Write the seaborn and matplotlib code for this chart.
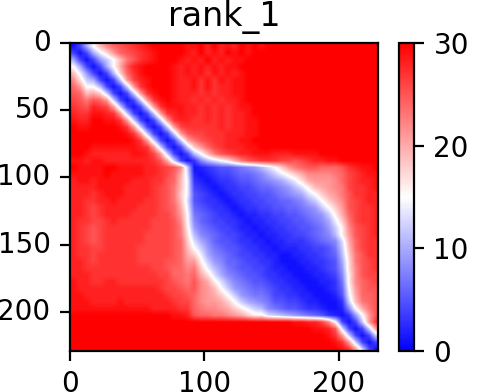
import numpy as np
import seaborn as sns
from matplotlib import pyplot as plt

BIN = 5  # residues per cell
N_BINS = 46
LAST_RESIDUE = 229
X_TICKS = [0, 100, 200]
Y_TICKS = [0, 50, 100, 150, 200]
CBAR_TICKS = [0, 10, 20, 30]
VMAX = 30

# distance, each row starts on the diagonal, cells left out are >= 30
upper_rows = [
    [1, 4, 10, 15, 19, 22, 24, 25, 26, 27, 28, 29, 30, 30, 30, 30, 30, 29, 29, 30, 28, 30, 28, 29, 28, 30, 29, 30, 29, 30, 30, 30, 30],
    [1, 4, 10, 14, 17, 21, 24, 25, 26, 27, 28, 29, 30, 30, 30, 30, 29, 28, 30, 28, 29, 28, 30, 29, 30, 29, 30, 30, 30, 30],
    [1, 4, 9, 12, 15, 19, 23, 25, 27, 28, 29, 30, 30, 30, 29, 28, 29, 28, 30, 28, 29, 28, 29, 29, 30, 30, 30, 30],
    [1, 4, 10, 15, 20, 25, 28, 29, 30, 30, 30, 30, 29, 28, 29, 28, 29, 28, 29, 28, 29, 29, 30, 30, 30, 30],
    [1, 4, 11, 18, 24, 27, 29, 30, 30, 30, 30, 29, 28, 29, 28, 29, 27, 29, 28, 29, 28, 29, 30, 30, 30],
    [1, 4, 12, 21, 26, 28, 29, 30, 30, 30, 29, 28, 28, 29, 27, 29, 27, 29, 28, 29, 29, 30, 30, 30],
    [1, 4, 12, 21, 27, 29, 30, 30, 30, 29, 28, 28, 29, 27, 29, 27, 28, 28, 29, 29, 30, 30, 30],
    [1, 4, 12, 21, 27, 29, 30, 30, 29, 28, 28, 28, 27, 28, 27, 28, 28, 29, 29, 30, 30, 30],
    [1, 4, 12, 21, 27, 29, 30, 29, 28, 28, 27, 28, 27, 28, 27, 28, 28, 29, 30, 30, 30],
    [1, 4, 12, 21, 27, 29, 29, 29, 28, 28, 27, 28, 27, 28, 27, 28, 29, 29, 30, 30],
    [1, 4, 12, 21, 27, 28, 29, 28, 28, 27, 28, 27, 28, 27, 28, 28, 29, 30, 30],
    [1, 4, 12, 21, 27, 28, 28, 27, 27, 28, 27, 28, 27, 28, 28, 29, 29, 30],
    [1, 4, 12, 21, 26, 27, 27, 27, 27, 27, 28, 27, 28, 28, 29, 29, 30],
    [1, 4, 12, 21, 25, 26, 26, 27, 27, 27, 28, 28, 28, 29, 29, 30],
    [1, 4, 12, 20, 23, 25, 26, 27, 27, 28, 28, 29, 29, 30, 30],
    [1, 4, 12, 18, 21, 24, 26, 27, 28, 28, 28, 29, 29, 30, 30, 30],
    [1, 4, 11, 15, 19, 23, 25, 26, 27, 28, 28, 29, 29, 29, 28, 28, 28, 29, 29, 29, 29],
    [1, 3, 8, 11, 13, 15, 17, 20, 23, 25, 26, 27, 27, 27, 26, 26, 25, 26, 27, 28, 28, 29, 29],
    [1, 2, 3, 4, 5, 5, 6, 7, 8, 9, 11, 13, 15, 18, 21, 23, 24, 25, 25, 24, 24, 24, 25, 27, 28, 29, 29],
    [1, 2, 3, 4, 4, 5, 6, 6, 7, 8, 10, 12, 14, 16, 18, 20, 22, 22, 22, 22, 23, 24, 26, 27, 28, 29, 29],
    [1, 2, 3, 3, 4, 5, 5, 6, 7, 8, 9, 10, 12, 14, 17, 20, 21, 21, 21, 22, 24, 26, 27, 28, 28, 29],
    [1, 2, 3, 3, 4, 4, 5, 6, 6, 7, 8, 9, 11, 13, 16, 19, 20, 21, 22, 23, 26, 27, 27, 28, 29],
    [1, 2, 3, 3, 4, 4, 5, 5, 6, 7, 8, 9, 10, 13, 15, 18, 20, 21, 23, 25, 27, 27, 28, 28],
    [1, 2, 3, 3, 4, 4, 5, 5, 6, 6, 7, 8, 10, 12, 15, 18, 20, 22, 25, 26, 27, 28, 28],
    [1, 2, 3, 3, 4, 4, 5, 5, 6, 6, 7, 8, 9, 12, 15, 18, 21, 25, 26, 27, 27, 28],
    [1, 2, 2, 3, 3, 4, 4, 5, 5, 6, 7, 8, 9, 12, 16, 20, 24, 26, 27, 27, 28],
    [1, 2, 2, 3, 3, 4, 4, 5, 5, 6, 7, 8, 10, 14, 18, 23, 26, 27, 27, 28],
    [1, 2, 2, 3, 3, 4, 4, 5, 5, 6, 7, 9, 12, 16, 22, 25, 26, 27, 28],
    [1, 2, 2, 3, 3, 4, 4, 5, 6, 7, 8, 11, 16, 21, 25, 26, 27, 28],
    [1, 2, 2, 3, 3, 3, 4, 5, 6, 7, 8, 13, 20, 24, 26, 27, 27],
    [1, 2, 2, 2, 3, 3, 4, 4, 5, 7, 12, 19, 24, 26, 27, 27],
    [1, 1, 2, 2, 3, 3, 4, 5, 6, 11, 18, 23, 25, 27, 27],
    [1, 1, 2, 2, 3, 3, 4, 5, 10, 17, 23, 25, 26, 27],
    [1, 1, 2, 2, 3, 4, 5, 9, 17, 22, 25, 26, 27],
    [1, 1, 2, 2, 3, 4, 8, 16, 22, 25, 26, 26],
    [1, 1, 2, 2, 3, 7, 16, 22, 24, 25, 26],
    [1, 1, 2, 3, 6, 15, 21, 24, 25, 25],
    [1, 1, 2, 5, 14, 20, 24, 24, 25],
    [1, 1, 3, 12, 19, 23, 24, 25],
    [1, 2, 8, 15, 20, 23, 25],
    [1, 3, 9, 15, 21, 25],
    [1, 4, 12, 21, 27],
    [1, 4, 12, 21],
    [1, 4, 12],
    [1, 4],
    [1],
]

# rows 90-205, columns 0-90: paler than the mirrored upper right block
lower_left = [
    [30, 29, 29, 29, 29, 30, 30, 29, 29, 29, 29, 28, 28, 27, 26, 25, 22, 12],
    [29, 29, 29, 29, 29, 30, 29, 29, 29, 29, 29, 28, 28, 27, 26, 24, 20, 13],
    [28, 29, 29, 28, 29, 29, 29, 29, 29, 28, 28, 28, 27, 27, 25, 24, 19, 14],
    [28, 28, 28, 28, 29, 29, 29, 29, 28, 28, 28, 28, 27, 26, 25, 23, 19, 14],
    [28, 28, 28, 27, 28, 29, 29, 29, 28, 28, 28, 28, 27, 26, 25, 23, 18, 14],
    [28, 28, 27, 27, 28, 28, 29, 28, 28, 28, 28, 27, 27, 26, 25, 23, 19, 13],
    [28, 28, 27, 26, 27, 28, 28, 28, 28, 28, 27, 27, 27, 26, 25, 24, 20, 14],
    [28, 28, 27, 26, 27, 28, 28, 28, 28, 27, 27, 27, 27, 26, 26, 24, 21, 15],
    [28, 27, 27, 26, 26, 27, 28, 27, 27, 27, 27, 27, 26, 26, 26, 25, 22, 15],
    [28, 27, 26, 25, 26, 27, 27, 27, 27, 27, 27, 27, 26, 26, 26, 25, 23, 16],
    [28, 27, 26, 25, 26, 27, 27, 27, 27, 27, 27, 26, 26, 26, 26, 25, 23, 17],
    [28, 27, 26, 25, 26, 27, 27, 27, 27, 27, 27, 26, 26, 26, 26, 25, 24, 18],
    [28, 27, 27, 26, 26, 27, 27, 27, 27, 27, 26, 26, 26, 26, 26, 25, 24, 19],
    [28, 27, 27, 26, 27, 27, 27, 27, 27, 27, 26, 26, 26, 26, 26, 25, 24, 20],
    [28, 28, 27, 26, 27, 27, 27, 27, 27, 27, 26, 26, 26, 26, 25, 25, 24, 21],
    [28, 28, 27, 27, 27, 27, 27, 27, 27, 27, 27, 27, 26, 26, 25, 24, 24, 22],
    [28, 28, 28, 27, 27, 27, 27, 27, 27, 27, 27, 27, 27, 26, 26, 24, 24, 23],
    [29, 28, 28, 27, 27, 28, 28, 27, 27, 27, 27, 27, 27, 27, 26, 25, 24, 23],
    [29, 28, 28, 28, 28, 28, 28, 28, 28, 28, 28, 28, 28, 27, 26, 26, 25, 24],
    [29, 29, 28, 28, 28, 28, 28, 28, 28, 28, 28, 28, 28, 28, 27, 26, 26, 25],
    [29, 29, 29, 28, 28, 28, 28, 29, 28, 28, 28, 28, 28, 28, 28, 27, 26, 26],
    [29, 29, 29, 29, 29, 29, 29, 29, 29, 29, 29, 29, 28, 28, 28, 28, 27, 27],
    [30, 30, 30, 30, 30, 30, 30, 30, 30, 30, 30, 30, 30, 30, 30, 29, 29, 28],
]

# last rows are not mirrored, below the diagonal they go straight to saturated red
bottom_rows = {
    41: [29, 29, 28, 28, 26, 22, 15, 4],
    42: [29, 29, 28, 25, 13, 4],
    43: [29, 27, 21, 12, 4],
    44: [29, 27, 21, 12, 4],
    45: [29, 27, 21, 12, 4],
}

if __name__ == '__main__':
    dist = np.full((N_BINS, N_BINS), float(VMAX))
    for i, row in enumerate(upper_rows):
        dist[i, i:i + len(row)] = row
        dist[i:i + len(row), i] = row
    dist[18:41, :18] = lower_left
    for i, row in bottom_rows.items():
        dist[i, :i] = VMAX
        dist[i, i - len(row):i] = row

    fig = plt.figure(figsize=(2.42, 1.96), dpi=200)
    ax = fig.add_axes([70 / 484, 1 - 351 / 392, 308 / 484, 308 / 392])
    cax = fig.add_axes([399 / 484, 1 - 351 / 392, 15 / 484, 308 / 392])

    sns.heatmap(dist, cmap="bwr", vmin=0, vmax=VMAX, ax=ax, cbar_ax=cax,
                cbar_kws={"ticks": CBAR_TICKS})
    cbar = ax.collections[0].colorbar
    # smooth the coarse cells, the original has one cell per residue
    ax.imshow(dist, cmap="bwr", vmin=0, vmax=VMAX, extent=(0, N_BINS, N_BINS, 0),
              interpolation="bilinear", aspect="auto", zorder=2)

    ax.set_xlim(0, LAST_RESIDUE / BIN)
    ax.set_ylim(LAST_RESIDUE / BIN, 0)
    ax.set_xticks([t / BIN for t in X_TICKS], labels=X_TICKS, rotation=0)
    ax.set_yticks([t / BIN for t in Y_TICKS], labels=Y_TICKS, rotation=0)
    ax.set_title("rank_1")
    for spine in ax.spines.values():
        spine.set_visible(True)
    cbar.outline.set_visible(True)
    cbar.outline.set_linewidth(0.8)
    cax.tick_params(length=3.5, width=0.8)

    fig.savefig("out.png", dpi=200)
